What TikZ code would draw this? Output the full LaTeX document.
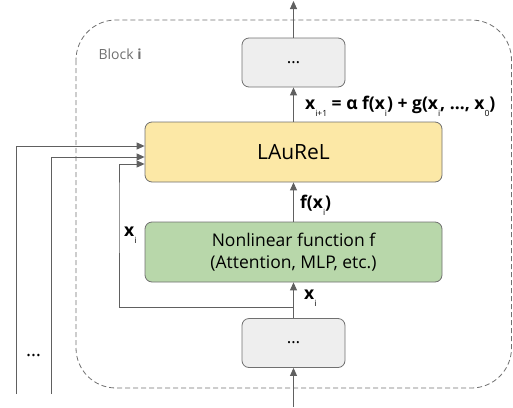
\documentclass[tikz,border=0pt]{standalone}
\usepackage{fontspec}
\setmainfont{Open Sans}
\usetikzlibrary{calc}
\usetikzlibrary{positioning}
\usetikzlibrary{arrows.meta}
\definecolor{boxgray}{RGB}{238,238,238}
\definecolor{edgegray}{RGB}{112,112,112}
\definecolor{wiregray}{RGB}{96,96,96}
\definecolor{laurelyellow}{RGB}{252,232,166}
\definecolor{nonlingreen}{RGB}{184,215,170}
\newcommand{\subidx}[1]{\raisebox{-0.75ex}{\fontsize{8.5}{8.5}\selectfont\mdseries #1}}

\begin{document}
\begin{tikzpicture}[%
  x=1pt, y=-1pt,
  >={Triangle[length=8pt,width=7pt]},
  box/.style={draw=edgegray, line width=0.8pt, rounded corners=7pt, inner sep=0pt},
  smallbox/.style={box, fill=boxgray, minimum width=103pt, minimum height=49pt,
    font=\fontsize{17}{17}\selectfont},
  widebox/.style={box, minimum width=297pt, minimum height=60pt, align=center},
  wire/.style={draw=wiregray, line width=0.9pt},
  lbl/.style={font=\fontsize{17.5}{17.5}\selectfont\bfseries, inner sep=0pt, anchor=west},
]

  \useasboundingbox (0,0) rectangle (513,407);

  % the block outline
  \draw[edgegray, line width=0.8pt, dash pattern=on 5pt off 3pt, rounded corners=40pt]
    (76,20) rectangle (511.5,388);
  \node[anchor=west, text=edgegray, font=\fontsize{14}{14}\selectfont] (blk) at (95,54) {Block \textbf{i}};

  \node[smallbox] (top) at (293.5,62.5) {\dots};
  \node[widebox, fill=laurelyellow, font=\fontsize{21}{21}\selectfont] (laurel) at (293.5,152) {LAuReL};
  \node[widebox, fill=nonlingreen, font=\fontsize{17.5}{22}\selectfont] (nonlin) at (293.5,252)
    {Nonlinear function f\\(Attention, MLP, etc.)};
  \node[smallbox] (bot) at (293.5,343) {\dots};

  \coordinate (in) at (293.5,407);
  \coordinate (out) at (293.5,1);
  \coordinate (split) at (293.5,307);
  \coordinate (skipa) at (16,394);
  \coordinate (skipb) at (51,394);

  % main path
  \draw[wire,->] (in) -- (bot);
  \draw[wire,->] (bot) -- (nonlin);
  \draw[wire,->] (nonlin) -- (laurel);
  \draw[wire,->] (laurel) -- (top);
  \draw[wire,->] (top) -- (out);

  % residual and earlier layers
  \draw[wire,->] (split) -| (119,200) |- ([yshift=-12pt]laurel.west);
  \draw[wire,->] (skipb) |- ([yshift=-5pt]laurel.west);
  \draw[wire,->] (skipa) |- ([yshift=6pt]laurel.west);
  \node[font=\fontsize{19}{19}\selectfont] (more) at (33.5,356) {\dots};

  \node[lbl] (xin) at (304,298) {x\subidx{i}};
  \node[lbl] (xres) at (124,235) {x\subidx{i}};
  \node[lbl] (fx) at (300,205) {f(x\subidx{i})};
  \node[lbl] (eq) at (305,106) {x\subidx{i+1} = α f(x\subidx{i}) + g(x\subidx{i}, …, x\subidx{0})};

\end{tikzpicture}
\end{document}
